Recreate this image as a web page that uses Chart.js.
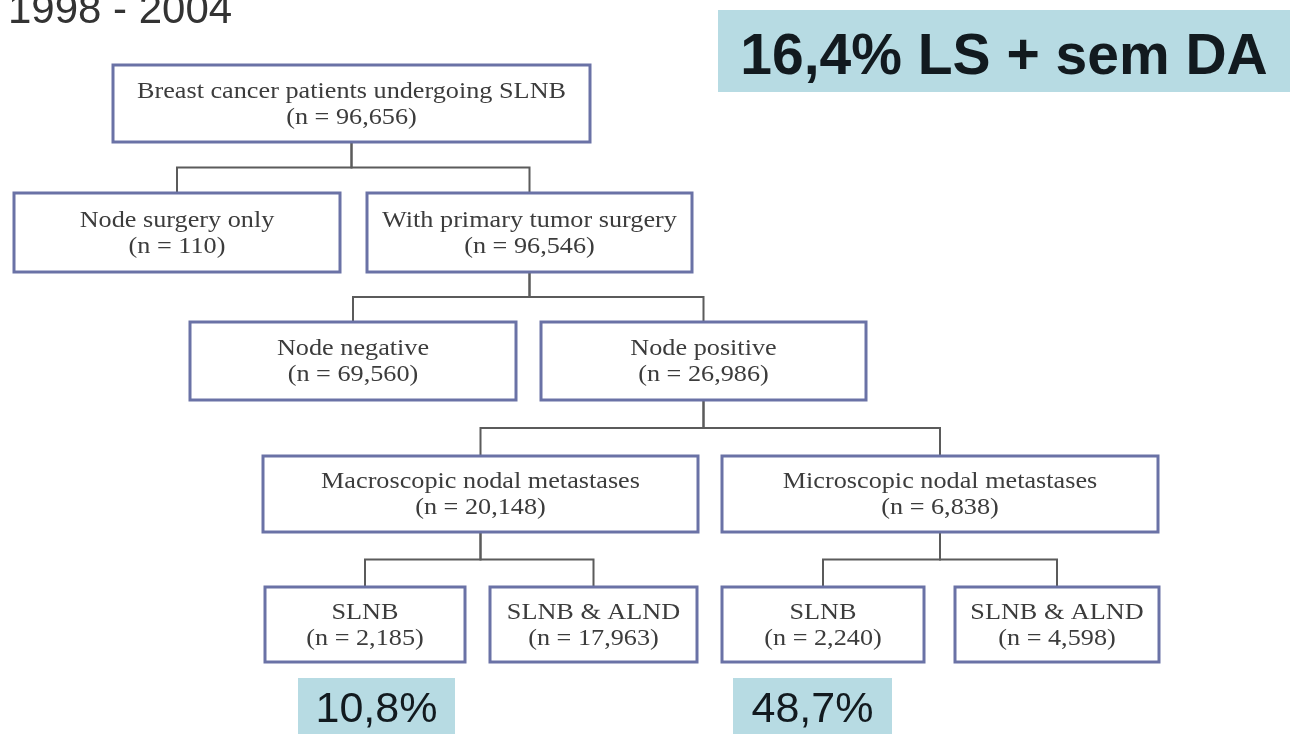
<!DOCTYPE html>
<html lang="en">
<head>
<meta charset="utf-8">
<title>SLNB cohort 1998 - 2004</title>
<script src="https://cdn.jsdelivr.net/npm/chart.js@4.4.0/dist/chart.umd.min.js"></script>
<style>
  html, body { margin: 0; padding: 0; background: #ffffff; overflow: hidden; }
  #wrap { width: 1290px; height: 734px; }
</style>
</head>
<body>
<div id="wrap"><canvas id="flow" width="1290" height="734"></canvas></div>
<script>
// Period heading
const periodLabel = '1998 - 2004';

// Flow nodes: label, patient count, parent node index (-1 = root)
const nodeLabels = [
  'Breast cancer patients undergoing SLNB',
  'Node surgery only',
  'With primary tumor surgery',
  'Node negative',
  'Node positive',
  'Macroscopic nodal metastases',
  'Microscopic nodal metastases',
  'SLNB',
  'SLNB & ALND',
  'SLNB',
  'SLNB & ALND'
];
const nodeCounts = [96656, 110, 96546, 69560, 26986, 20148, 6838, 2185, 17963, 2240, 4598];
const nodeParents = [-1, 0, 0, 2, 2, 4, 4, 5, 5, 6, 6];

// Highlighted percentages
const highlightValues = [16.4, 10.8, 48.7];
const highlightSuffixes = ['% LS + sem DA', '%', '%'];

// Layout (scale units): [left, right, top, bottom]
const nodeFrames = [
  [113, 590, 65, 142],
  [14, 340, 193, 272],
  [367, 692, 193, 272],
  [190, 516, 322, 400],
  [541, 866, 322, 400],
  [263, 698, 456, 532],
  [722, 1158, 456, 532],
  [265, 465, 587, 662],
  [490, 697, 587, 662],
  [722, 924, 587, 662],
  [955, 1159, 587, 662]
];
const highlightFrames = [
  [718, 1290, 10, 92],
  [298, 455, 678, 734],
  [733, 892, 678, 734]
];
const highlightFonts = ['bold 57px "Liberation Sans", Arial, sans-serif', '43px "Liberation Sans", Arial, sans-serif', '43px "Liberation Sans", Arial, sans-serif'];
const highlightBaselines = [74, 722, 722];

const fmtCount = n => '(n = ' + n.toLocaleString('en-US') + ')';
const fmtPct = (v, s) => v.toFixed(1).replace('.', ',') + s;

// One elbow connector per child: parent bottom -> mid rail -> child top
const connectorSets = [];
nodeParents.forEach((p, i) => {
  if (p < 0) return;
  const pf = nodeFrames[p], cf = nodeFrames[i];
  const px = (pf[0] + pf[1]) / 2, cx = (cf[0] + cf[1]) / 2;
  const mid = (pf[3] + cf[2]) / 2;
  connectorSets.push({
    data: [{x: px, y: pf[3]}, {x: px, y: mid}, {x: cx, y: mid}, {x: cx, y: cf[2]}],
    showLine: true,
    borderColor: '#5b5b5b',
    borderWidth: 2,
    pointRadius: 0,
    tension: 0
  });
});

const flowPlugin = {
  id: 'flowBoxes',
  afterDatasetsDraw(chart) {
    const ctx = chart.ctx;
    const xs = chart.scales.x, ys = chart.scales.y;
    const X = v => xs.getPixelForValue(v);
    const Y = v => ys.getPixelForValue(v);

    // heading
    ctx.save();
    ctx.fillStyle = '#333333';
    ctx.font = '42px "Liberation Sans", Arial, sans-serif';
    ctx.textAlign = 'left';
    ctx.textBaseline = 'alphabetic';
    ctx.fillText(periodLabel, X(8), Y(23));
    ctx.restore();

    // node boxes
    nodeFrames.forEach((f, i) => {
      const l = X(f[0]), r = X(f[1]), t = Y(f[2]), b = Y(f[3]);
      ctx.save();
      ctx.fillStyle = '#ffffff';
      ctx.fillRect(l, t, r - l, b - t);
      ctx.strokeStyle = '#6a72a6';
      ctx.lineWidth = 3;
      ctx.strokeRect(l, t, r - l, b - t);
      const cx = (l + r) / 2, cy = (t + b) / 2;
      ctx.fillStyle = '#3c3c3c';
      ctx.font = '23px "Liberation Serif", "Times New Roman", serif';
      ctx.textAlign = 'center';
      ctx.textBaseline = 'alphabetic';
      const lines = [nodeLabels[i], fmtCount(nodeCounts[i])];
      const baselines = [cy - 6, cy + 20];
      lines.forEach((s, k) => {
        ctx.save();
        ctx.translate(cx, baselines[k]);
        ctx.scale(1.14, 1);
        ctx.fillText(s, 0, 0);
        ctx.restore();
      });
      ctx.restore();
    });

    // highlighted percentages
    highlightFrames.forEach((f, i) => {
      const l = X(f[0]), r = X(f[1]), t = Y(f[2]), b = Y(f[3]);
      ctx.save();
      ctx.fillStyle = '#b7dbe3';
      ctx.fillRect(l, t, r - l, b - t);
      ctx.fillStyle = '#121a1f';
      ctx.font = highlightFonts[i];
      ctx.textAlign = 'center';
      ctx.textBaseline = 'alphabetic';
      ctx.fillText(fmtPct(highlightValues[i], highlightSuffixes[i]), (l + r) / 2, Y(highlightBaselines[i]));
      ctx.restore();
    });
  }
};

new Chart(document.getElementById('flow'), {
  type: 'scatter',
  data: { datasets: connectorSets },
  options: {
    responsive: false,
    animation: false,
    events: [],
    layout: { padding: 0 },
    plugins: { legend: { display: false }, tooltip: { enabled: false }, title: { display: false } },
    scales: {
      x: { type: 'linear', min: 0, max: 1290, display: false },
      y: { type: 'linear', min: 0, max: 734, reverse: true, display: false }
    }
  },
  plugins: [flowPlugin]
});
</script>
</body>
</html>
